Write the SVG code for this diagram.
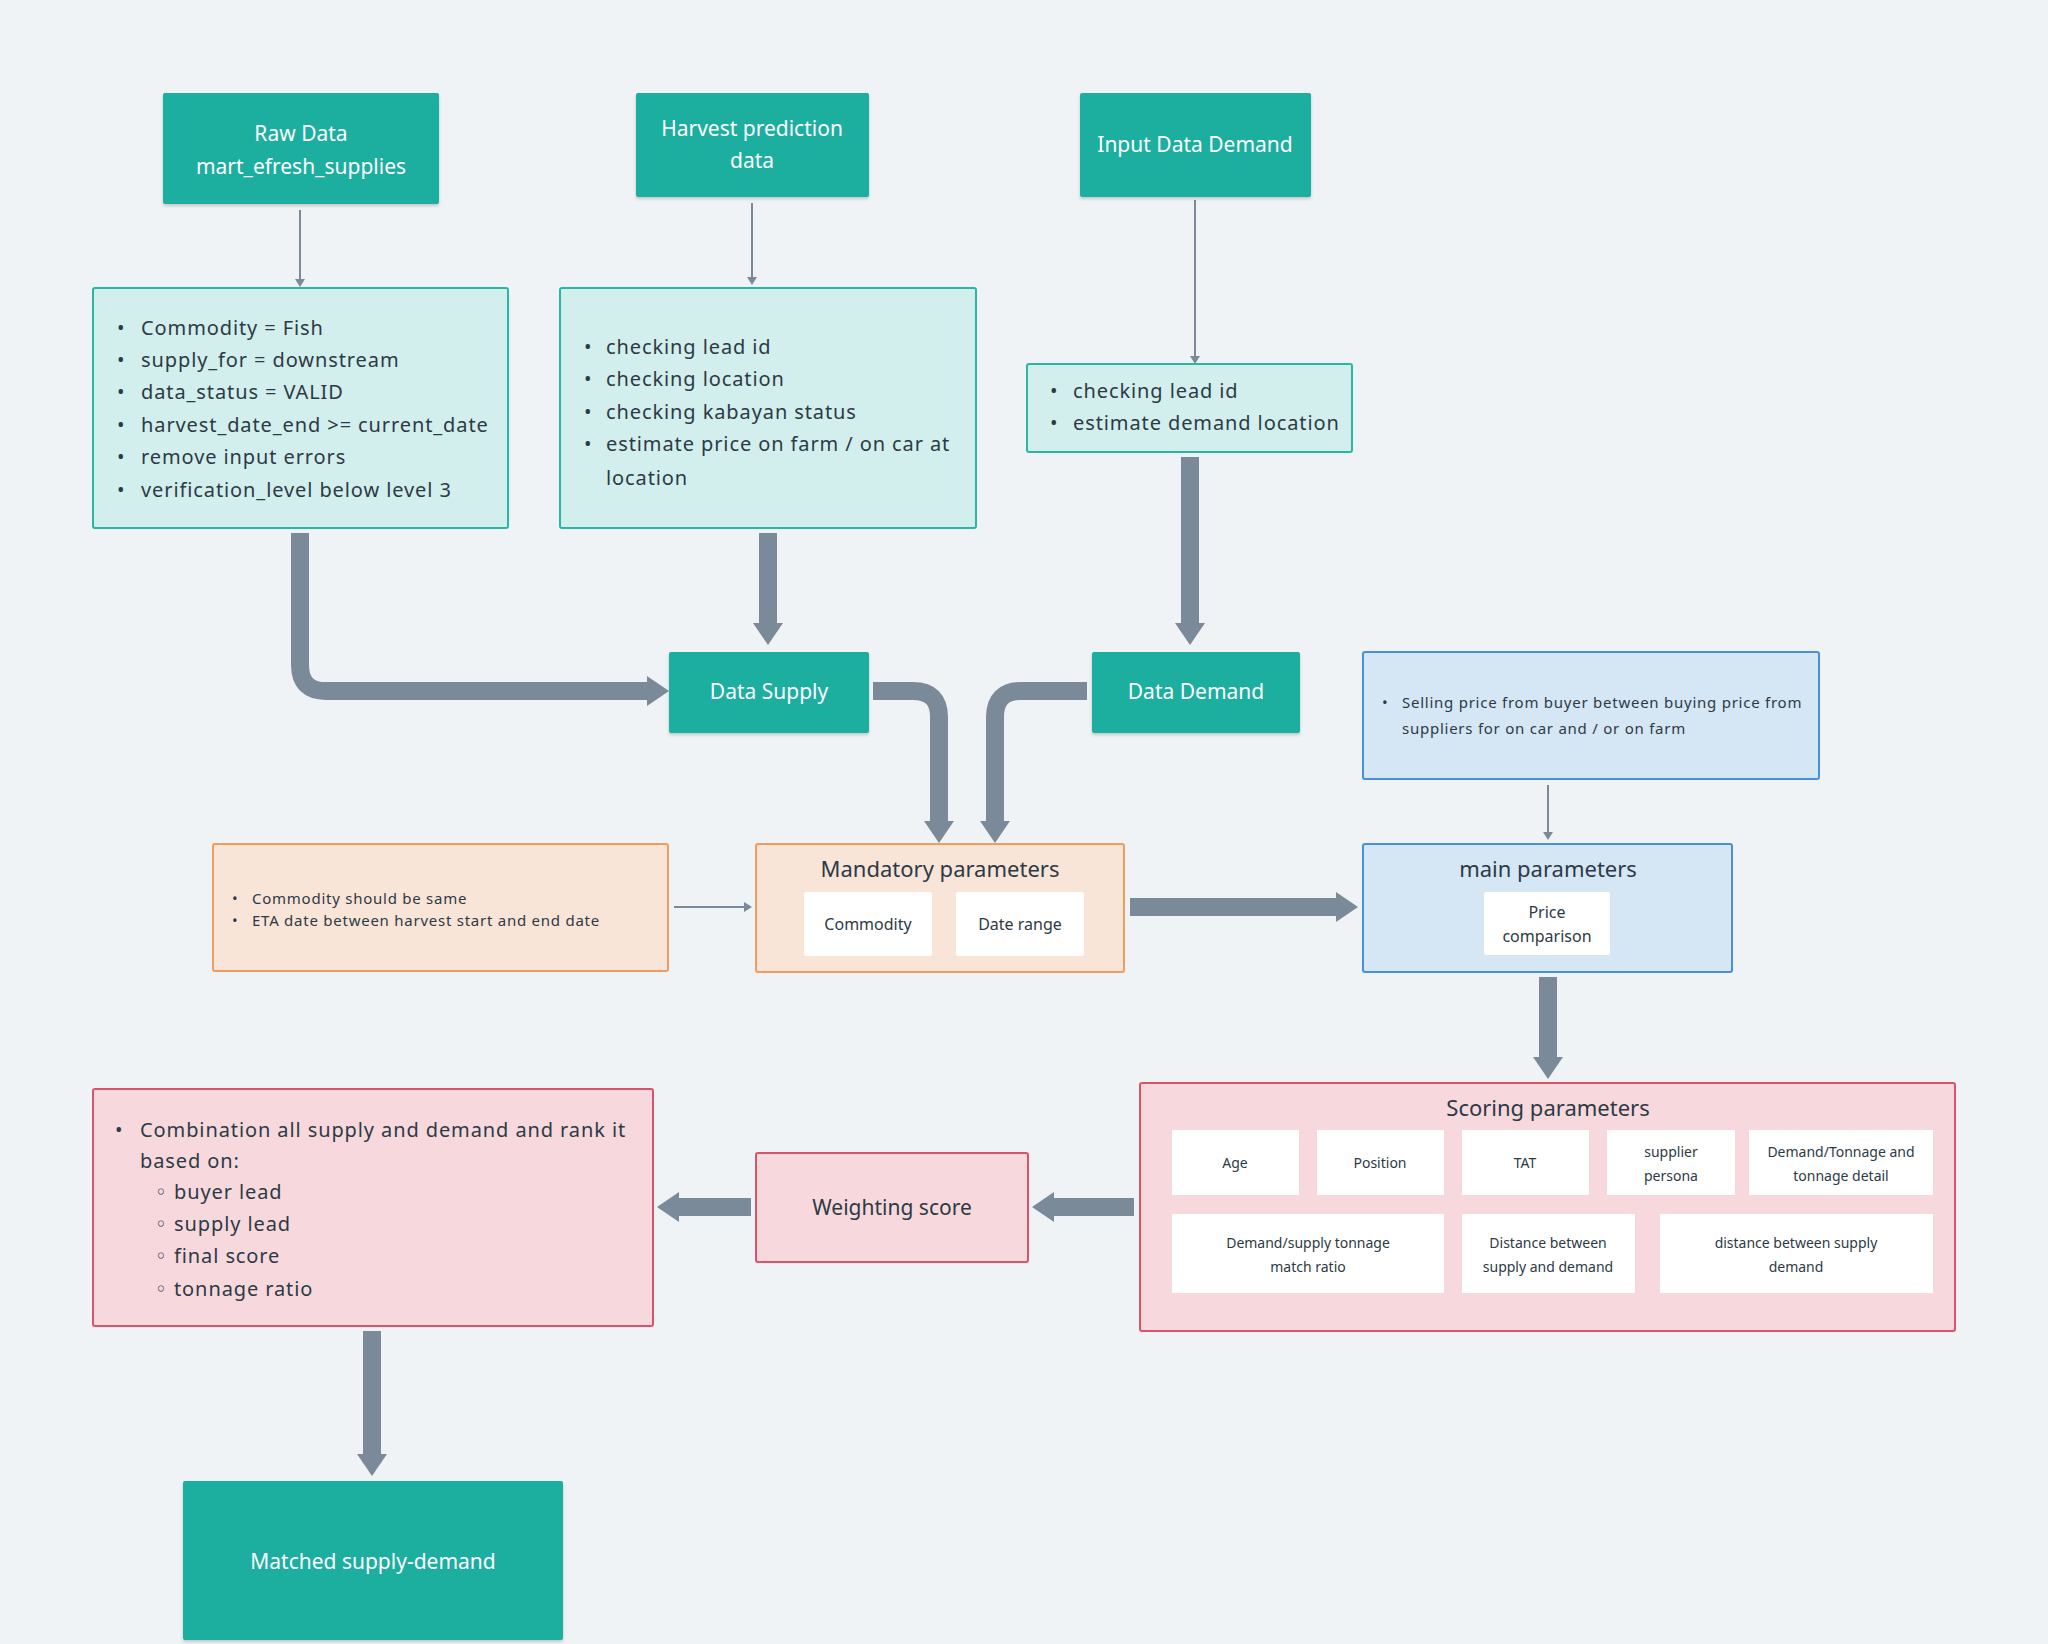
<svg xmlns="http://www.w3.org/2000/svg" width="2048" height="1644" viewBox="0 0 2048 1644">
<defs>
<style>
text{font-family:"Noto Sans","Open Sans","DejaVu Sans",sans-serif;fill:#2d3a45}
.teal{fill:#1aae9f}
.tealt{fill:#ffffff;font-size:21px}
.lt{fill:#d2efed;stroke:#2bb5a5;stroke-width:2}
.bl{fill:#d5e6f5;stroke:#4a90d9;stroke-width:2}
.or{fill:#f9e4d8;stroke:#ef9c5e;stroke-width:2}
.pk{fill:#f7d9dd;stroke:#d9546a;stroke-width:2}
.w{fill:#ffffff}
.li{font-size:20px;letter-spacing:0.9px}
.sm{font-size:15px;letter-spacing:0.75px}
.ttl{font-size:22px}
.in{font-size:16px}
.sc{font-size:14px}
.thick{fill:none;stroke:#7b8a99;stroke-width:18;marker-end:url(#big)}
.thin{fill:none;stroke:#7b8a99;stroke-width:2;marker-end:url(#small)}
</style>
<marker id="big" viewBox="0 -15 22 30" refX="0" refY="0" markerWidth="22" markerHeight="30" markerUnits="userSpaceOnUse" orient="auto"><path d="M0,-15 L22,0 L0,15 Z" fill="#7b8a99"/></marker>
<marker id="small" viewBox="0 -5 8 10" refX="0" refY="0" markerWidth="8" markerHeight="10" markerUnits="userSpaceOnUse" orient="auto"><path d="M0,-5 L8,0 L0,5 Z" fill="#7b8a99"/></marker>
<filter id="sh" x="-5%" y="-5%" width="110%" height="115%"><feDropShadow dx="0" dy="2" stdDeviation="1.5" flood-color="#000" flood-opacity="0.18"/></filter>
</defs>
<rect width="2048" height="1644" fill="#f0f3f6"/>

<g id="connectors">
<path class="thin" d="M300,210 V279"/>
<path class="thin" d="M752,203 V277"/>
<path class="thin" d="M1195,200 V356"/>
<path class="thin" d="M1548,785 V832"/>
<path class="thin" d="M674,907 H744"/>
<path class="thick" d="M300,533 V665 Q300,691 326,691 H647"/>
<path class="thick" d="M768,533 V623"/>
<path class="thick" d="M1190,457 V623"/>
<path class="thick" d="M873,691 H913 Q939,691 939,717 V821"/>
<path class="thick" d="M1087,691 H1021 Q995,691 995,717 V821"/>
<path class="thick" d="M1130,907 H1336"/>
<path class="thick" d="M1548,977 V1057"/>
<path class="thick" d="M1134,1207 H1054"/>
<path class="thick" d="M751,1207 H679"/>
<path class="thick" d="M372,1331 V1454"/>
</g>

<g id="raw-data">
<rect class="teal" x="163" y="93" width="276" height="111" rx="2" filter="url(#sh)"/>
<text class="tealt" x="301" y="141" text-anchor="middle">Raw Data</text>
<text class="tealt" x="301" y="174" text-anchor="middle">mart_efresh_supplies</text>
</g>

<g id="harvest-prediction">
<rect class="teal" x="636" y="93" width="233" height="104" rx="2" filter="url(#sh)"/>
<text class="tealt" x="752" y="136" text-anchor="middle">Harvest prediction</text>
<text class="tealt" x="752" y="168" text-anchor="middle">data</text>
</g>

<g id="input-data-demand">
<rect class="teal" x="1080" y="93" width="231" height="104" rx="2" filter="url(#sh)"/>
<text class="tealt" x="1195" y="152" text-anchor="middle">Input Data Demand</text>
</g>

<g id="supply-filters">
<rect class="lt" x="93" y="288" width="415" height="240" rx="2"/>
<g class="li">
<text x="117" y="335">•</text><text x="141" y="335">Commodity = Fish</text>
<text x="117" y="367">•</text><text x="141" y="367">supply_for = downstream</text>
<text x="117" y="399">•</text><text x="141" y="399">data_status = VALID</text>
<text x="117" y="432">•</text><text x="141" y="432">harvest_date_end &gt;= current_date</text>
<text x="117" y="464">•</text><text x="141" y="464">remove input errors</text>
<text x="117" y="497">•</text><text x="141" y="497">verification_level below level 3</text>
</g>
</g>

<g id="harvest-checks">
<rect class="lt" x="560" y="288" width="416" height="240" rx="2"/>
<g class="li">
<text x="584" y="354">•</text><text x="606" y="354">checking lead id</text>
<text x="584" y="386">•</text><text x="606" y="386">checking location</text>
<text x="584" y="419">•</text><text x="606" y="419">checking kabayan status</text>
<text x="584" y="451">•</text><text x="606" y="451">estimate price on farm / on car at</text>
<text x="606" y="485">location</text>
</g>
</g>

<g id="demand-checks">
<rect class="lt" x="1027" y="364" width="325" height="88" rx="2"/>
<g class="li">
<text x="1050" y="398">•</text><text x="1073" y="398">checking lead id</text>
<text x="1050" y="430">•</text><text x="1073" y="430">estimate demand location</text>
</g>
</g>

<g id="data-supply">
<rect class="teal" x="669" y="652" width="200" height="81" rx="2" filter="url(#sh)"/>
<text class="tealt" x="769" y="699" text-anchor="middle">Data Supply</text>
</g>

<g id="data-demand">
<rect class="teal" x="1092" y="652" width="208" height="81" rx="2" filter="url(#sh)"/>
<text class="tealt" x="1196" y="699" text-anchor="middle">Data Demand</text>
</g>

<g id="price-rule">
<rect class="bl" x="1363" y="652" width="456" height="127" rx="2"/>
<g class="sm">
<text x="1382" y="708">•</text><text x="1402" y="708">Selling price from buyer between buying price from</text>
<text x="1402" y="734">suppliers for on car and / or on farm</text>
</g>
</g>

<g id="mandatory-rules">
<rect class="or" x="213" y="844" width="455" height="127" rx="2"/>
<g class="sm">
<text x="232" y="904">•</text><text x="252" y="904">Commodity should be same</text>
<text x="232" y="926">•</text><text x="252" y="926">ETA date between harvest start and end date</text>
</g>
</g>

<g id="mandatory-parameters">
<rect class="or" x="756" y="844" width="368" height="128" rx="2"/>
<text class="ttl" x="940" y="877" text-anchor="middle">Mandatory parameters</text>
<rect class="w" x="804" y="892" width="128" height="64" rx="2"/>
<text class="in" x="868" y="930" text-anchor="middle">Commodity</text>
<rect class="w" x="956" y="892" width="128" height="64" rx="2"/>
<text class="in" x="1020" y="930" text-anchor="middle">Date range</text>
</g>

<g id="main-parameters">
<rect class="bl" x="1363" y="844" width="369" height="128" rx="2"/>
<text class="ttl" x="1548" y="877" text-anchor="middle">main parameters</text>
<rect class="w" x="1484" y="892" width="126" height="63" rx="2"/>
<text class="in" x="1547" y="918" text-anchor="middle">Price</text>
<text class="in" x="1547" y="942" text-anchor="middle">comparison</text>
</g>

<g id="scoring-parameters">
<rect class="pk" x="1140" y="1083" width="815" height="248" rx="2"/>
<text class="ttl" x="1548" y="1116" text-anchor="middle">Scoring parameters</text>
<rect class="w" x="1172" y="1130" width="127" height="65"/>
<text class="sc" x="1235" y="1168" text-anchor="middle">Age</text>
<rect class="w" x="1317" y="1130" width="127" height="65"/>
<text class="sc" x="1380" y="1168" text-anchor="middle">Position</text>
<rect class="w" x="1462" y="1130" width="127" height="65"/>
<text class="sc" x="1525" y="1168" text-anchor="middle">TAT</text>
<rect class="w" x="1607" y="1130" width="128" height="65"/>
<text class="sc" x="1671" y="1157" text-anchor="middle">supplier</text>
<text class="sc" x="1671" y="1181" text-anchor="middle">persona</text>
<rect class="w" x="1749" y="1130" width="184" height="65"/>
<text class="sc" x="1841" y="1157" text-anchor="middle">Demand/Tonnage and</text>
<text class="sc" x="1841" y="1181" text-anchor="middle">tonnage detail</text>
<rect class="w" x="1172" y="1214" width="272" height="79"/>
<text class="sc" x="1308" y="1248" text-anchor="middle">Demand/supply tonnage</text>
<text class="sc" x="1308" y="1272" text-anchor="middle">match ratio</text>
<rect class="w" x="1462" y="1214" width="173" height="79"/>
<text class="sc" x="1548" y="1248" text-anchor="middle">Distance between</text>
<text class="sc" x="1548" y="1272" text-anchor="middle">supply and demand</text>
<rect class="w" x="1660" y="1214" width="273" height="79"/>
<text class="sc" x="1796" y="1248" text-anchor="middle">distance between supply</text>
<text class="sc" x="1796" y="1272" text-anchor="middle">demand</text>
</g>

<g id="weighting-score">
<rect class="pk" x="756" y="1153" width="272" height="109" rx="2"/>
<text class="tealt" x="892" y="1215" text-anchor="middle" style="fill:#2d3a45">Weighting score</text>
</g>

<g id="ranking">
<rect class="pk" x="93" y="1089" width="560" height="237" rx="2"/>
<g class="li">
<text x="115" y="1137">•</text><text x="140" y="1137">Combination all supply and demand and rank it</text>
<text x="140" y="1168">based on:</text>
<text x="155" y="1199">◦</text><text x="174" y="1199">buyer lead</text>
<text x="155" y="1231">◦</text><text x="174" y="1231">supply lead</text>
<text x="155" y="1263">◦</text><text x="174" y="1263">final score</text>
<text x="155" y="1296">◦</text><text x="174" y="1296">tonnage ratio</text>
</g>
</g>

<g id="matched-supply-demand">
<rect class="teal" x="183" y="1481" width="380" height="159" rx="2" filter="url(#sh)"/>
<text class="tealt" x="373" y="1569" text-anchor="middle">Matched supply-demand</text>
</g>
</svg>
